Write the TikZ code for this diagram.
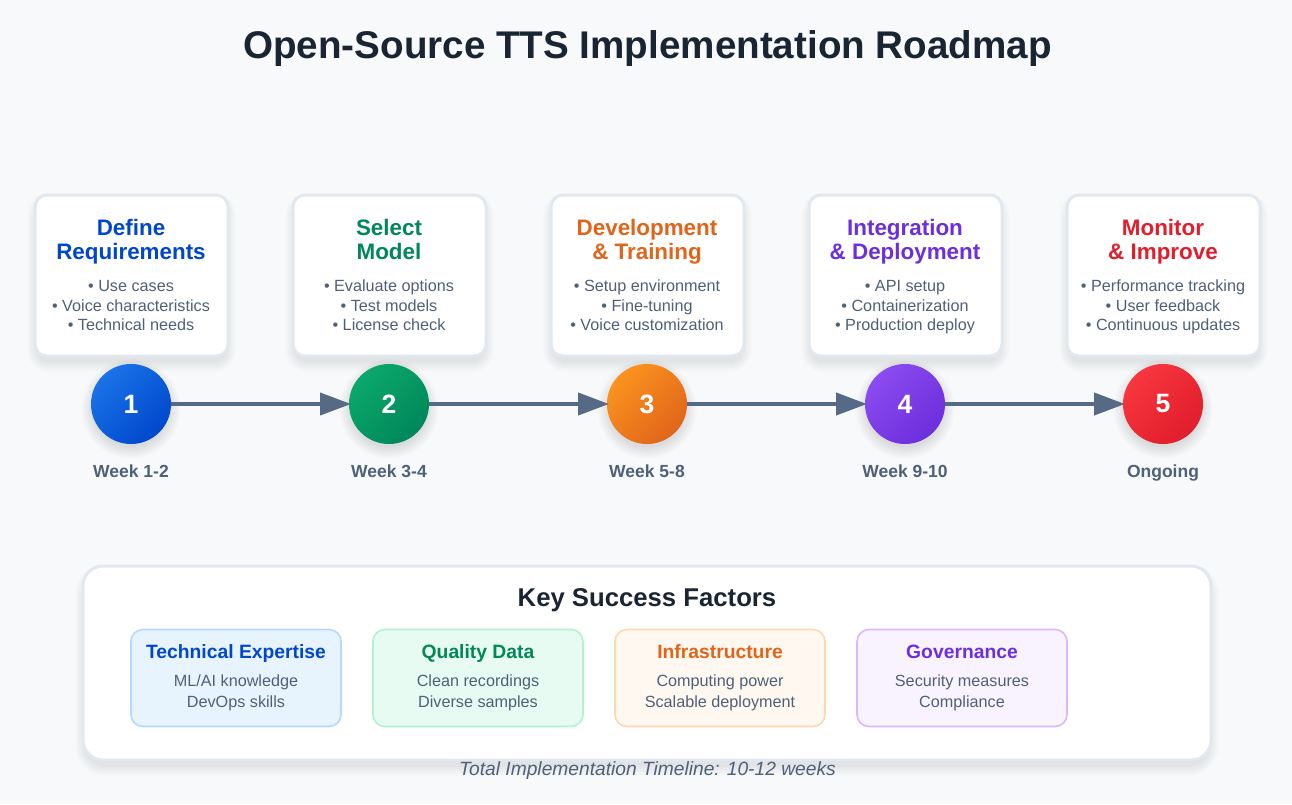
\documentclass[tikz,border=0pt]{standalone}
\usepackage{fontspec}
\setmainfont{Liberation Sans}
\usetikzlibrary{arrows.meta}
\definecolor{bgc}{HTML}{F7F9FB}
\definecolor{ink}{HTML}{1A2533}
\definecolor{slatec}{HTML}{4F6079}
\definecolor{linec}{HTML}{566A85}
\definecolor{edgec}{HTML}{E2E8F0}
\definecolor{cblue}{HTML}{0047CC}\definecolor{lblue}{HTML}{1A73E8}
\definecolor{cgreen}{HTML}{00875A}\definecolor{lgreen}{HTML}{0BA86B}
\definecolor{corange}{HTML}{E0651A}\definecolor{lorange}{HTML}{FB931F}
\definecolor{cpurple}{HTML}{6D2EDC}\definecolor{lpurple}{HTML}{8B4BF0}
\definecolor{cred}{HTML}{E01E2C}\definecolor{lred}{HTML}{F8363F}
\definecolor{f1d}{HTML}{B6D8FD}\definecolor{f1f}{HTML}{E8F4FD}
\definecolor{f2d}{HTML}{B0F3D0}\definecolor{f2f}{HTML}{E8FBF2}
\definecolor{f3d}{HTML}{FDD8AE}\definecolor{f3f}{HTML}{FFF8F0}
\definecolor{f4d}{HTML}{D9B8FD}\definecolor{f4f}{HTML}{F9F3FF}
\newcommand{\fs}[1]{\fontsize{#1}{#1}\selectfont}
\newcommand{\softbox}[5]{%
  \foreach \k in {0,...,10}{%
    \fill[black,opacity=.009,rounded corners={#5+\k*1pt}]
      ({#1-#3/2-\k+2},{#2-#4/2-\k+8}) rectangle ({#1+#3/2+\k-2},{#2+#4/2+\k+6});
  }}
\newcommand{\softdisc}[2]{%
  \foreach \k in {0,...,9}{%
    \fill[black,opacity=.011] (#1,#2+5) circle ({38+\k*1.3});
  }}
\tikzset{
  x=1pt,y=-1pt,
  cardbox/.style={draw=edgec,line width=3pt,fill=white,rounded corners=12pt,minimum width=193pt,minimum height=161pt,inner sep=0pt,outer sep=0pt},
  panelbox/.style={draw=edgec,line width=3pt,fill=white,rounded corners=20pt,minimum width=1128pt,minimum height=194pt,inner sep=0pt,outer sep=0pt},
  factorbox/.style={line width=1.6pt,rounded corners=12pt,minimum width=210pt,minimum height=97pt,inner sep=0pt,outer sep=0pt},
  stepdisc/.style 2 args={circle,minimum size=80pt,inner sep=0pt,outer sep=0pt,top color=#1,bottom color=#2,shading angle=45,text=white,font=\fs{26.5}\bfseries},
  txt/.style={anchor=base,inner sep=0pt,outer sep=0pt},
  heading/.style={txt,font=\fs{22.4}\bfseries},
  bullet/.style={txt,font=\fs{16.2},text=slatec},
  week/.style={txt,font=\fs{17.5}\bfseries,text=slatec},
  factorhead/.style={txt,font=\fs{19.3}\bfseries},
  flow/.style={draw=linec,line width=4pt,-{Triangle[length=31pt,width=22pt]},shorten >=-2pt},
}
\begin{document}
\begin{tikzpicture}
\useasboundingbox (0,0) rectangle (1292,804);
\fill[bgc] (0,0) rectangle (1292,804);
\node[txt,font=\fs{38.6}\bfseries,text=ink] (title) at (647.5,58) {Open-Source TTS Implementation Roadmap};
% cards
\foreach \cx in {131.5,389.5,647.5,905.5,1163.5}{\softbox{\cx}{275.5}{193}{161}{12}}
\node[cardbox] (card1) at (131.5,275.5) {};
\node[cardbox] (card2) at (389.5,275.5) {};
\node[cardbox] (card3) at (647.5,275.5) {};
\node[cardbox] (card4) at (905.5,275.5) {};
\node[cardbox] (card5) at (1163.5,275.5) {};
% card text
\node[heading,text=cblue] (h1a) at (131,235) {Define};
\node[heading,text=cblue] (h1b) at (131,259) {Requirements};
\node[bullet] (b1a) at (131,291) {• Use cases};
\node[bullet] (b1b) at (131,311) {• Voice characteristics};
\node[bullet] (b1c) at (131,330) {• Technical needs};
\node[heading,text=cgreen] (h2a) at (389,235) {Select};
\node[heading,text=cgreen] (h2b) at (389,259) {Model};
\node[bullet] (b2a) at (389,291) {• Evaluate options};
\node[bullet] (b2b) at (389,311) {• Test models};
\node[bullet] (b2c) at (389,330) {• License check};
\node[heading,text=corange] (h3a) at (647,235) {Development};
\node[heading,text=corange] (h3b) at (647,259) {\& Training};
\node[bullet] (b3a) at (647,291) {• Setup environment};
\node[bullet] (b3b) at (647,311) {• Fine-tuning};
\node[bullet] (b3c) at (647,330) {• Voice customization};
\node[heading,text=cpurple] (h4a) at (905,235) {Integration};
\node[heading,text=cpurple] (h4b) at (905,259) {\& Deployment};
\node[bullet] (b4a) at (905,291) {• API setup};
\node[bullet] (b4b) at (905,311) {• Containerization};
\node[bullet] (b4c) at (905,330) {• Production deploy};
\node[heading,text=cred] (h5a) at (1163,235) {Monitor};
\node[heading,text=cred] (h5b) at (1163,259) {\& Improve};
\node[bullet] (b5a) at (1163,291) {• Performance tracking};
\node[bullet] (b5b) at (1163,311) {• User feedback};
\node[bullet] (b5c) at (1163,330) {• Continuous updates};
% discs
\foreach \cx in {131,389,647,905,1163}{\softdisc{\cx}{404}}
\node[stepdisc={lblue}{cblue}] (s1) at (131,404) {1};
\node[stepdisc={lgreen}{cgreen}] (s2) at (389,404) {2};
\node[stepdisc={lorange}{corange}] (s3) at (647,404) {3};
\node[stepdisc={lpurple}{cpurple}] (s4) at (905,404) {4};
\node[stepdisc={lred}{cred}] (s5) at (1163,404) {5};
\draw[flow] (s1) -- (s2);
\draw[flow] (s2) -- (s3);
\draw[flow] (s3) -- (s4);
\draw[flow] (s4) -- (s5);
\node[week] (w1) at (131,477) {Week 1-2};
\node[week] (w2) at (389,477) {Week 3-4};
\node[week] (w3) at (647,477) {Week 5-8};
\node[week] (w4) at (905,477) {Week 9-10};
\node[week] (w5) at (1163,477) {Ongoing};
% panel
\softbox{647}{663}{1128}{194}{20}
\node[panelbox] (panel) at (647,663) {};
\node[txt,font=\fs{25.7}\bfseries,text=ink] (key) at (647,606) {Key Success Factors};
\node[factorbox,draw=f1d,fill=f1f] (f1) at (236,678) {};
\node[factorbox,draw=f2d,fill=f2f] (f2) at (478,678) {};
\node[factorbox,draw=f3d,fill=f3f] (f3) at (720,678) {};
\node[factorbox,draw=f4d,fill=f4f] (f4) at (962,678) {};
\node[factorhead,text=cblue] (t1) at (236,658) {Technical Expertise};
\node[bullet] (t1a) at (236,686) {ML/AI knowledge};
\node[bullet] (t1b) at (236,707) {DevOps skills};
\node[factorhead,text=cgreen] (t2) at (478,658) {Quality Data};
\node[bullet] (t2a) at (478,686) {Clean recordings};
\node[bullet] (t2b) at (478,707) {Diverse samples};
\node[factorhead,text=corange] (t3) at (720,658) {Infrastructure};
\node[bullet] (t3a) at (720,686) {Computing power};
\node[bullet] (t3b) at (720,707) {Scalable deployment};
\node[factorhead,text=cpurple] (t4) at (962,658) {Governance};
\node[bullet] (t4a) at (962,686) {Security measures};
\node[bullet] (t4b) at (962,707) {Compliance};
\node[txt,font=\fs{19.2}\itshape,text=slatec] (total) at (647.5,775) {Total Implementation Timeline: 10-12 weeks};
\end{tikzpicture}
\end{document}
